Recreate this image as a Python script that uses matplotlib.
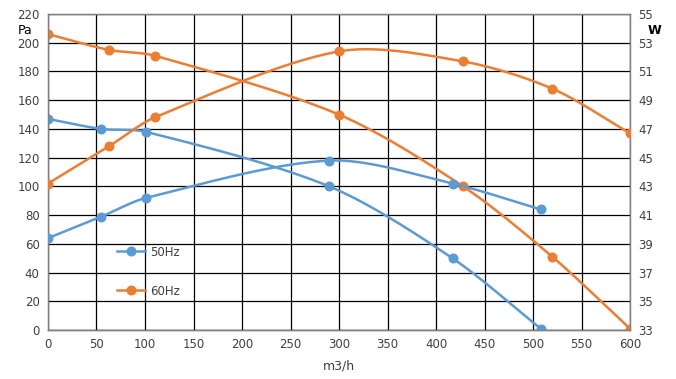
import numpy as np
import matplotlib
matplotlib.use("Agg")
import matplotlib.pyplot as plt
from matplotlib.lines import Line2D

# flow m3/h, pressure Pa, power W
q50_p = [0, 55, 101, 290, 417, 508]
p50 = [147, 140, 138, 100, 50, 1]
q50_w = [0, 55, 101, 290, 417, 508]
w50 = [39.4, 40.9, 42.2, 44.8, 43.2, 41.4]

q60_p = [0, 63, 110, 300, 428, 520, 600]
p60 = [206, 195, 191, 150, 100, 51, 1]
q60_w = [0, 63, 110, 300, 428, 520, 600]
w60 = [43.2, 45.8, 47.8, 52.4, 51.7, 49.8, 46.7]

BLUE = "#5B9BD5"
ORANGE = "#ED7D31"
TXT = "#404040"


def smooth(x, y, sx, sy, k=0.3, n=40):
    # bezier smoothing done in screen-ish units (sx, sy = px per unit)
    P = np.column_stack([np.asarray(x, float) * sx, np.asarray(y, float) * sy])
    m = len(P)
    D = np.zeros_like(P)
    for i in range(m):
        a, b = P[max(i - 1, 0)], P[min(i + 1, m - 1)]
        d = b - a
        D[i] = d / np.hypot(*d)
    t = np.linspace(0, 1, n)[:, None]
    out = []
    for i in range(m - 1):
        L = np.hypot(*(P[i + 1] - P[i]))
        c0, c3 = P[i], P[i + 1]
        c1 = c0 + D[i] * L * k
        c2 = c3 - D[i + 1] * L * k
        out.append((1 - t) ** 3 * c0 + 3 * (1 - t) ** 2 * t * c1
                   + 3 * (1 - t) * t ** 2 * c2 + t ** 3 * c3)
    out = np.vstack(out)
    return out[:, 0] / sx, out[:, 1] / sy


def draw(ax, x, y, color, sy):
    lx, ly = smooth(x, y, 0.97, sy)
    ax.plot(lx, ly, color=color, lw=1.8, zorder=3)
    ax.plot(x, y, "o", color=color, ms=6.2, zorder=4)


fig = plt.figure(figsize=(6.76, 3.79), dpi=100)
ax = fig.add_axes([0.071, 0.129, 0.861, 0.834])
ax2 = ax.twinx()

ax.set_xlim(0, 600)
ax.set_ylim(0, 220)
ax2.set_ylim(33, 55)
ax.set_xticks(np.arange(0, 601, 50))
ax.set_yticks(np.arange(0, 221, 20))
ax2.set_yticks(np.arange(33, 56, 2))
ax.grid(True, color="black", lw=0.9)
ax.set_axisbelow(True)

for a in (ax, ax2):
    a.tick_params(length=0, labelsize=8.5, colors=TXT, pad=6)
    for s in a.spines.values():
        s.set_color("#808080")
        s.set_linewidth(0.9)
ax.spines["bottom"].set_color("black")

draw(ax, q50_p, p50, BLUE, 1.436)
draw(ax2, q50_w, w50, BLUE, 14.36)
draw(ax, q60_p, p60, ORANGE, 1.436)
draw(ax2, q60_w, w60, ORANGE, 14.36)

fig.text(18 / 676, 1 - 30 / 379, "Pa", fontsize=9, color="black", ha="left", va="center")
fig.text(648 / 676, 1 - 30 / 379, "W", fontsize=9, color="black", fontweight="bold",
         ha="left", va="center")
ax.set_xlabel("m3/h", fontsize=9, color=TXT, labelpad=6)

handles = [Line2D([], [], color=BLUE, lw=1.8, marker="o", ms=6.2),
           Line2D([], [], color=ORANGE, lw=1.8, marker="o", ms=6.2)]
leg = ax2.legend(handles, ["50Hz", "60Hz"], loc="upper left",
                 bbox_to_anchor=(106 / 676, 1 - 235 / 379), bbox_transform=fig.transFigure,
                 frameon=False, labelspacing=2.2, handlelength=2.4, handletextpad=0.4,
                 fontsize=8.5, labelcolor=TXT)

fig.savefig("out.png", dpi=100)
